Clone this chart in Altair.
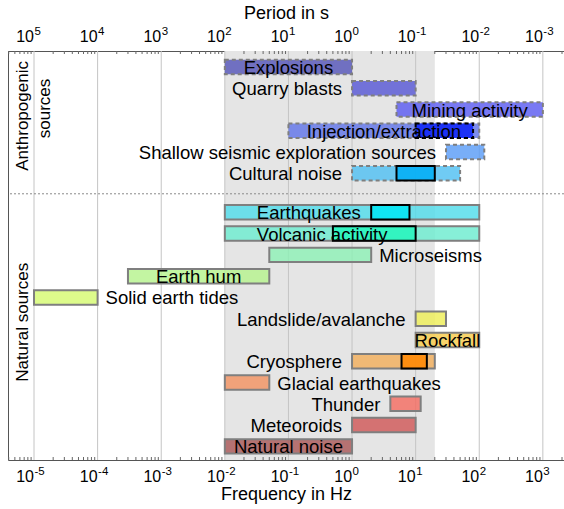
import altair as alt
import pandas as pd

# ---------------- data ----------------
names = ["Explosions", "Quarry blasts", "Mining activity", "Injection/extraction",
         "Shallow seismic exploration sources", "Cultural noise",
         "Earthquakes", "Volcanic activity", "Microseisms", "Earth hum", "Solid earth tides",
         "Landslide/avalanche", "Rockfall", "Cryosphere", "Glacial earthquakes", "Thunder",
         "Meteoroids", "Natural noise"]
groups = ["anthropogenic"] * 6 + ["natural"] * 12
f_lo = [0.01, 1, 5, 0.1, 30, 1, 0.01, 0.01, 0.05, 3e-4, 1e-5, 10, 10, 1, 0.01, 4, 1, 0.01]
f_hi = [1, 10, 1000, 100, 120, 50, 100, 100, 2, 0.05, 1e-4, 30, 100, 20, 0.05, 12, 10, 1]
colors = ["#5656b8", "#5858d4", "#5c5cf0", "#6074e8", "#5a9cf6", "#50c0f2",
          "#50dcea", "#6cecd0", "#8ef0b6", "#b6f38e", "#d6fa72",
          "#eeee58", "#f6ca4a", "#f2ae5c", "#f29262", "#f46c62", "#d05858", "#aa5858"]
label_pos = ["center", "left", "center", "center", "left", "left",
             "inside", "inside", "right", "center", "right",
             "left", "center", "left", "right", "left", "left", "center"]

inner_names = ["Injection/extraction", "Cultural noise", "Earthquakes", "Volcanic activity", "Cryosphere"]
inner_lo = [10, 5, 2, 0.5, 6]
inner_hi = [80, 20, 8, 10, 15]
inner_colors = ["#0a22f8", "#00aef6", "#00e6f4", "#26f6bc", "#ff8600"]
inner_dashed = [True, False, False, False, False]

shade_lo, shade_hi = [0.01], [20]
decades = [1e-5, 1e-4, 1e-3, 1e-2, 1e-1, 1e0, 1e1, 1e2, 1e3]
freq_exponents = ["-5", "-4", "-3", "-2", "-1", "0", "1", "2", "3"]
period_exponents = ["5", "4", "3", "2", "1", "0", "-1", "-2", "-3"]
tick_base = "10"
minor_ticks = [m * d for d in [1e-6] + decades for m in range(2, 10)]

side_texts = ["Anthropogenic", "sources", "Natural sources"]

# ---------------- layout ----------------
W, H = 556, 409
FONT = "Liberation Sans"
LABEL_SIZE = 18.5
BASE_SIZE, EXP_SIZE = 16, 11.5
row_pos = list(range(6)) + [6.83 + j for j in range(12)]
sep_pos = 5.96
half = 0.34

df = pd.DataFrame({"name": names, "group": groups, "lo": f_lo, "hi": f_hi,
                   "color": colors, "pos": label_pos, "row": row_pos})
df["top"] = df["row"] - half
df["bot"] = df["row"] + half
df["mid"] = (df["lo"] * df["hi"]) ** 0.5
df["anchor"] = df.apply(lambda r: r["mid"] if r["pos"] == "center"
                        else (r["hi"] if r["pos"] == "right" else r["lo"]), axis=1)

row_of = dict(zip(names, row_pos))
dfi = pd.DataFrame({"name": inner_names, "lo": inner_lo, "hi": inner_hi,
                    "color": inner_colors, "dashed": inner_dashed})
dfi["top"] = dfi["name"].map(row_of) - half
dfi["bot"] = dfi["name"].map(row_of) + half


def est_width(s, size):
    return sum((0.333 if c == "-" else 0.556) for c in s) * size


def tick_df(exps):
    w10 = est_width(tick_base, BASE_SIZE)
    offs = [(w10 - est_width(e, EXP_SIZE)) / 2 for e in exps]
    return pd.DataFrame({"f": decades, "base": [tick_base] * len(decades), "exp": exps, "off": offs})


xs = alt.Scale(type="log", domain=[3.9e-6, 2150], nice=False)
ys = alt.Scale(domain=[-0.75, 18.47], reverse=True, nice=False, zero=False)

bottom_axis = alt.Axis(orient="bottom", values=decades, labels=False, ticks=False, grid=False,
                       title="Frequency in Hz", titleFont=FONT, titleFontSize=18,
                       titleFontWeight="normal", titleColor="black", titlePadding=25,
                       domainColor="#555555")
top_axis = alt.Axis(orient="top", values=decades, labels=False, ticks=False, grid=False,
                    title="Period in s", titleFont=FONT, titleFontSize=18,
                    titleFontWeight="normal", titleColor="black", titlePadding=29,
                    domainColor="#555555")

shade = alt.Chart(pd.DataFrame({"lo": shade_lo, "hi": shade_hi})).mark_rect(color="#e5e5e5").encode(
    x=alt.X("lo:Q", scale=xs, axis=None), x2="hi:Q", y=alt.value(0), y2=alt.value(H))

dec_df = pd.DataFrame({"f": decades})
grid = alt.Chart(dec_df).mark_rule(color="#c4c4c4", strokeWidth=1).encode(
    x=alt.X("f:Q", scale=xs, axis=bottom_axis))
grid_top = alt.Chart(dec_df).mark_rule(opacity=0).encode(
    x=alt.X("f:Q", scale=xs, axis=top_axis))

minor_df = pd.DataFrame({"f": [m for m in minor_ticks if 3.9e-6 < m < 2150]})
minor_top = alt.Chart(minor_df).mark_rule(color="#666666", strokeWidth=1).encode(
    x=alt.X("f:Q", scale=xs, axis=None), y=alt.value(0), y2=alt.value(3))
minor_bot = alt.Chart(minor_df).mark_rule(color="#666666", strokeWidth=1).encode(
    x=alt.X("f:Q", scale=xs, axis=None), y=alt.value(H - 3), y2=alt.value(H))


def tick_labels(exps, y_base, y_exp):
    t = alt.Chart(tick_df(exps))
    b = t.mark_text(align="right", baseline="middle", font=FONT, fontSize=BASE_SIZE, color="black").encode(
        x=alt.X("f:Q", scale=xs, axis=None), xOffset=alt.XOffset("off:Q", scale=None),
        y=alt.value(y_base), text="base:N")
    e = t.mark_text(align="left", baseline="middle", dx=0.5, font=FONT, fontSize=EXP_SIZE,
                    color="black").encode(
        x=alt.X("f:Q", scale=xs, axis=None), xOffset=alt.XOffset("off:Q", scale=None),
        y=alt.value(y_exp), text="exp:N")
    return [b, e]


ticks_bottom = tick_labels(freq_exponents, H + 17, H + 12)
ticks_top = tick_labels(period_exponents, -14, -19)

sep = alt.Chart(pd.DataFrame({"y": [sep_pos]})).mark_rule(
    color="#8a8a8a", strokeDash=[2, 2], strokeWidth=1).encode(
    y=alt.Y("y:Q", scale=ys, axis=None))

base = alt.Chart(df)
bars_anth = base.transform_filter("datum.group == 'anthropogenic'").mark_rect(
    stroke="#7f7f7f", strokeWidth=2, strokeDash=[4, 3], fillOpacity=0.82).encode(
    x=alt.X("lo:Q", scale=xs, axis=None), x2="hi:Q",
    y=alt.Y("top:Q", scale=ys, axis=alt.Axis(labels=False, ticks=False, grid=False, title=None,
                                              domainColor="#555555")),
    y2="bot:Q", fill=alt.Fill("color:N", scale=None))
bars_nat = base.transform_filter("datum.group == 'natural'").mark_rect(
    stroke="#7f7f7f", strokeWidth=2, fillOpacity=0.82).encode(
    x=alt.X("lo:Q", scale=xs, axis=None), x2="hi:Q",
    y=alt.Y("top:Q", scale=ys, axis=None), y2="bot:Q", fill=alt.Fill("color:N", scale=None))

ibase = alt.Chart(dfi)
inner_dash = ibase.transform_filter("datum.dashed").mark_rect(
    stroke="black", strokeWidth=2, strokeDash=[4, 3], fillOpacity=0.85).encode(
    x=alt.X("lo:Q", scale=xs, axis=None), x2="hi:Q",
    y=alt.Y("top:Q", scale=ys, axis=None), y2="bot:Q", fill=alt.Fill("color:N", scale=None))
inner_solid = ibase.transform_filter("!datum.dashed").mark_rect(
    stroke="black", strokeWidth=2, fillOpacity=0.85).encode(
    x=alt.X("lo:Q", scale=xs, axis=None), x2="hi:Q",
    y=alt.Y("top:Q", scale=ys, axis=None), y2="bot:Q", fill=alt.Fill("color:N", scale=None))


def text_layer(pos, align, dx):
    return base.transform_filter(f"datum.pos == '{pos}'").mark_text(
        align=align, baseline="middle", dx=dx, dy=1, font=FONT, fontSize=LABEL_SIZE,
        color="black").encode(
        x=alt.X("anchor:Q", scale=xs, axis=None),
        y=alt.Y("row:Q", scale=ys, axis=None), text="name:N")


texts = [text_layer("center", "center", 0), text_layer("left", "right", -10),
         text_layer("right", "left", 8), text_layer("inside", "left", 32)]

side_df = pd.DataFrame({"t": side_texts, "row": [2.3, 1.95, 12.0]})


def side_layer(i, xpix):
    return alt.Chart(side_df.iloc[[i]]).mark_text(
        angle=270, font=FONT, fontSize=17, baseline="middle", align="center", color="black").encode(
        x=alt.value(xpix), y=alt.Y("row:Q", scale=ys, axis=None), text="t:N")


sides = [side_layer(0, 15), side_layer(1, 37), side_layer(2, 15)]

chart = alt.layer(shade, grid, grid_top, minor_top, minor_bot, sep, bars_anth, bars_nat,
                  inner_dash, inner_solid, *texts, *ticks_bottom, *ticks_top, *sides).resolve_axis(
    x="independent", y="independent").properties(
    width=W, height=H, autosize=alt.AutoSizeParams(type="none"),
    padding={"left": 8, "top": 51, "right": 0, "bottom": 49}).configure_view(stroke=None)

chart.save("out.html", embed_options={"renderer": "svg", "actions": False})
